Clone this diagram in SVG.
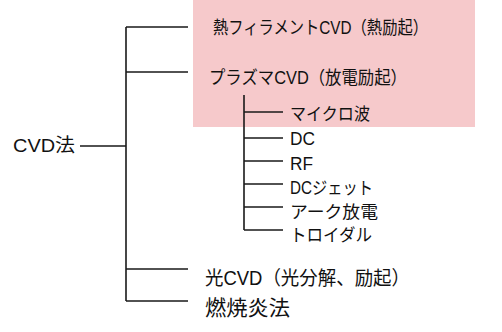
<svg xmlns="http://www.w3.org/2000/svg" width="502" height="332" viewBox="0 0 502 332">
<style>
.t{font-family:"Liberation Sans","Noto Sans CJK JP",sans-serif;fill:#111}
.ln{stroke:#1a1a1a;stroke-width:1.6;fill:none}
</style>
<rect x="0" y="0" width="502" height="332" fill="#fff"/>
<rect x="193" y="0" width="282" height="127" fill="#F6C9CB"/>
<g id="connectors" class="ln">
<path d="M80 146H126M126 27V301M126 27H188M126 72H188M126 269H188M126 301H188"/>
<path d="M244 95V230M244 112H283M244 138H283M244 161H283M244 184H283M244 207H283M244 230H283"/>
</g>
<g id="root"><text class="t" x="13" y="152" font-size="19" textLength="62" lengthAdjust="spacingAndGlyphs">CVD法</text></g>
<g id="n1"><text class="t" x="213" y="34" font-size="18" textLength="215" lengthAdjust="spacingAndGlyphs">熱フィラメントCVD（熱励起）</text></g>
<g id="n2"><text class="t" x="209" y="84" font-size="18" textLength="198" lengthAdjust="spacingAndGlyphs">プラズマCVD（放電励起）</text></g>
<g id="s1"><text class="t" x="290" y="120" font-size="17.5" textLength="80" lengthAdjust="spacingAndGlyphs">マイクロ波</text></g>
<g id="s2"><text class="t" x="290" y="145" font-size="17.5" textLength="25" lengthAdjust="spacingAndGlyphs">DC</text></g>
<g id="s3"><text class="t" x="290" y="170" font-size="17.5" textLength="23" lengthAdjust="spacingAndGlyphs">RF</text></g>
<g id="s4"><text class="t" x="290" y="194" font-size="17.5" textLength="83" lengthAdjust="spacingAndGlyphs">DCジェット</text></g>
<g id="s5"><text class="t" x="290" y="218" font-size="17.5" textLength="88" lengthAdjust="spacingAndGlyphs">アーク放電</text></g>
<g id="s6"><text class="t" x="290" y="241" font-size="17.5" textLength="82" lengthAdjust="spacingAndGlyphs">トロイダル</text></g>
<g id="n3"><text class="t" x="205" y="285" font-size="19.5" textLength="205" lengthAdjust="spacingAndGlyphs">光CVD（光分解、励起）</text></g>
<g id="n4"><text class="t" x="205" y="315" font-size="21" textLength="85" lengthAdjust="spacingAndGlyphs">燃焼炎法</text></g>
</svg>
